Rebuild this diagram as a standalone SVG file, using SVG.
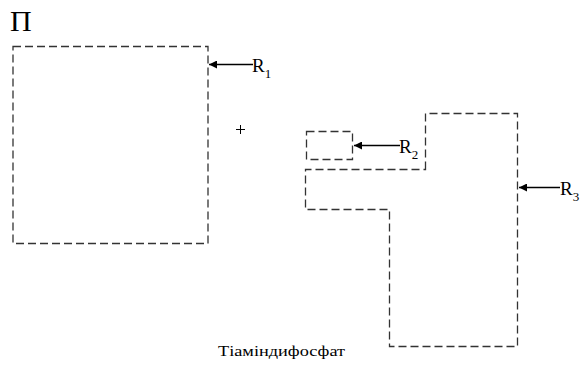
<svg xmlns="http://www.w3.org/2000/svg" width="580" height="367" viewBox="0 0 580 367">
<style>
.d{fill:none;stroke:#333;stroke-width:1.3;stroke-dasharray:8,4}
.a{stroke:#000;stroke-width:1.3;fill:none}
.t{font-family:"Liberation Serif",serif;fill:#000}
</style>
<defs>
<marker id="ah" viewBox="0 0 10 10" refX="10" refY="5" markerWidth="8" markerHeight="8" markerUnits="userSpaceOnUse" orient="auto">
<path d="M0,0 L10,5 L0,10 Z" fill="#000"/>
</marker>
</defs>
<rect width="580" height="367" fill="#fff"/>
<text class="t" x="10" y="31" font-size="30">Π</text>
<g id="R1">
<rect class="d" x="13" y="46.5" width="195" height="197"/>
</g>
<path d="M240.5,125 V134 M236,129.5 H245" stroke="#000" stroke-width="1"/>
<g id="R2">
<rect class="d" x="306.5" y="131.5" width="46" height="28"/>
</g>
<g id="R3">
<path class="d" d="M425.5,169.5 V113.5 H517.5 V346.5 H389.5 V209.5 H305.5 V169.5 Z"/>
</g>
<g id="connectors">
<line class="a" x1="253" y1="64.5" x2="209" y2="64.5" marker-end="url(#ah)"/>
<line class="a" x1="400" y1="145.5" x2="354" y2="145.5" marker-end="url(#ah)"/>
<line class="a" x1="560" y1="187.5" x2="519" y2="187.5" marker-end="url(#ah)"/>
</g>
<text class="t" x="252" y="72" font-size="19">R<tspan font-size="13" dy="6">1</tspan></text>
<text class="t" x="399" y="153" font-size="19">R<tspan font-size="13" dy="6">2</tspan></text>
<text class="t" x="560" y="195" font-size="19">R<tspan font-size="13" dy="6">3</tspan></text>
<text class="t" x="218" y="356" font-size="15" textLength="127" lengthAdjust="spacingAndGlyphs">Тіаміндифосфат</text>
</svg>
